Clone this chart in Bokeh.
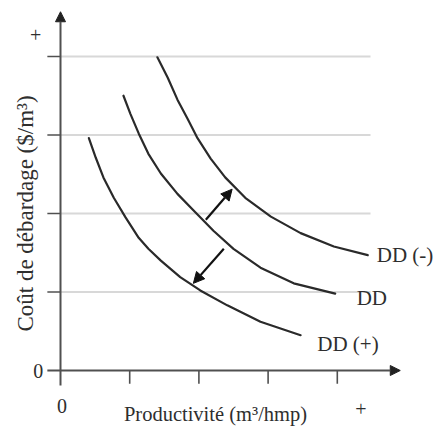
import math
from bokeh.plotting import figure
from bokeh.models import Range1d, Arrow, NormalHead
from bokeh.core.properties import value
from bokeh.embed import file_html
from bokeh.resources import INLINE

# ---------------- data ----------------
dd_plus_x = [0.41, 0.51, 0.62, 0.77, 0.94, 1.13, 1.27, 1.45, 1.73, 2.02, 2.41, 2.89, 3.47]
dd_plus_y = [2.96, 2.71, 2.46, 2.20, 1.95, 1.69, 1.55, 1.40, 1.19, 1.02, 0.83, 0.62, 0.45]

dd_x = [0.91, 1.01, 1.13, 1.27, 1.45, 1.69, 1.92, 2.21, 2.50, 2.89, 3.37, 3.97]
dd_y = [3.50, 3.27, 3.02, 2.76, 2.51, 2.25, 2.04, 1.78, 1.55, 1.31, 1.11, 0.98]

dd_minus_x = [1.40, 1.55, 1.69, 1.84, 1.98, 2.17, 2.38, 2.67, 3.04, 3.47, 3.95, 4.44]
dd_minus_y = [3.99, 3.73, 3.45, 3.20, 2.96, 2.70, 2.46, 2.20, 1.96, 1.75, 1.58, 1.47]

curve_names = ["DD (+)", "DD", "DD (-)"]
label_x = [3.71, 4.28, 4.57]
label_y = [0.34, 0.92, 1.47]

# shift arrows: (x0, y0) -> (x1, y1)
shift_x0 = [2.10, 2.36]
shift_y0 = [1.92, 1.55]
shift_x1 = [2.48, 1.92]
shift_y1 = [2.31, 1.11]

grid_values = [1, 2, 3, 4]
x_ticks = [1, 2, 3, 4]
y_ticks = [1, 2, 3, 4]
x_tick_labels = ["0", "+"]
y_tick_labels = ["0", "+"]
x_title = "Productivité (m³/hmp)"
y_title = "Coût de débardage ($/m³)"

# ---------------- layout ----------------
W, H = 435, 430
X_PX, Y_PX = 69.2, 78.5          # pixels per data unit
OX, OY = 60, 370                 # canvas position of the origin
x0r = -OX / X_PX
x1r = (W - OX) / X_PX
y0r = -(H - OY) / Y_PX
y1r = OY / Y_PX

p = figure(width=W, height=H, output_backend="svg", toolbar_location=None,
           x_range=Range1d(x0r, x1r), y_range=Range1d(y0r, y1r),
           x_axis_location=None, y_axis_location=None, min_border=0)
p.outline_line_color = None
p.grid.visible = False
p.background_fill_color = "white"
p.border_fill_color = "white"

FONT = value("Liberation Serif")
INK = "#2e2e2e"
AXIS = "#505050"

grid_right = 4.48
tick_len_x = 0.19   # data units on x (for y ticks)
tick_len_y = 0.17   # data units on y (for x ticks)

# gridlines
p.segment(x0=[0] * len(grid_values), y0=grid_values,
          x1=[grid_right] * len(grid_values), y1=grid_values,
          line_color="#d8d8d8", line_width=2)

# ticks
p.segment(x0=[-tick_len_x] * len(y_ticks), y0=y_ticks, x1=[0] * len(y_ticks), y1=y_ticks,
          line_color=AXIS, line_width=1.6)
p.segment(x0=x_ticks, y0=[0] * len(x_ticks), x1=x_ticks, y1=[-tick_len_y] * len(x_ticks),
          line_color=AXIS, line_width=1.6)

# axes with arrow heads
p.add_layout(Arrow(end=NormalHead(size=10, fill_color="#222222", line_color="#222222"),
                   x_start=-tick_len_x, y_start=0, x_end=4.91, y_end=0,
                   line_color=AXIS, line_width=2))
p.add_layout(Arrow(end=NormalHead(size=10, fill_color="#222222", line_color="#222222"),
                   x_start=0, y_start=-0.19, x_end=0, y_end=4.57,
                   line_color=AXIS, line_width=2))

# curves
for xs, ys in [(dd_plus_x, dd_plus_y), (dd_x, dd_y), (dd_minus_x, dd_minus_y)]:
    p.line(xs, ys, line_color="#2a2a2a", line_width=2.2, line_join="round", line_cap="round")

# shift arrows
for a, b, c, d in zip(shift_x0, shift_y0, shift_x1, shift_y1):
    p.add_layout(Arrow(end=NormalHead(size=11, fill_color="#111111", line_color="#111111"),
                       x_start=a, y_start=b, x_end=c, y_end=d,
                       line_color="#111111", line_width=2.2))

# curve labels
p.text(x=label_x, y=label_y, text=curve_names, text_font=FONT, text_font_size="21px",
       text_color=INK, text_align="left", text_baseline="middle")

# tick labels ("0" and "+")
p.text(x=[-0.32, -0.36], y=[0, 4.28], text=y_tick_labels, text_font=FONT,
       text_font_size="20px", text_color=INK, text_align="center", text_baseline="middle")
p.text(x=[0.02, 4.34], y=[-0.45, -0.49], text=x_tick_labels, text_font=FONT,
       text_font_size="20px", text_color=INK, text_align="center", text_baseline="middle")

# axis titles
p.text(x=[2.24], y=[-0.56], text=[x_title], text_font=FONT, text_font_size="20.5px",
       text_color=INK, text_align="center", text_baseline="middle")
p.text(x=[-0.50], y=[2.0], text=[y_title], text_font=FONT, text_font_size="23px",
       text_color=INK, text_align="center", text_baseline="middle", angle=math.pi / 2)

open("out.html", "w").write(file_html(p, INLINE))
